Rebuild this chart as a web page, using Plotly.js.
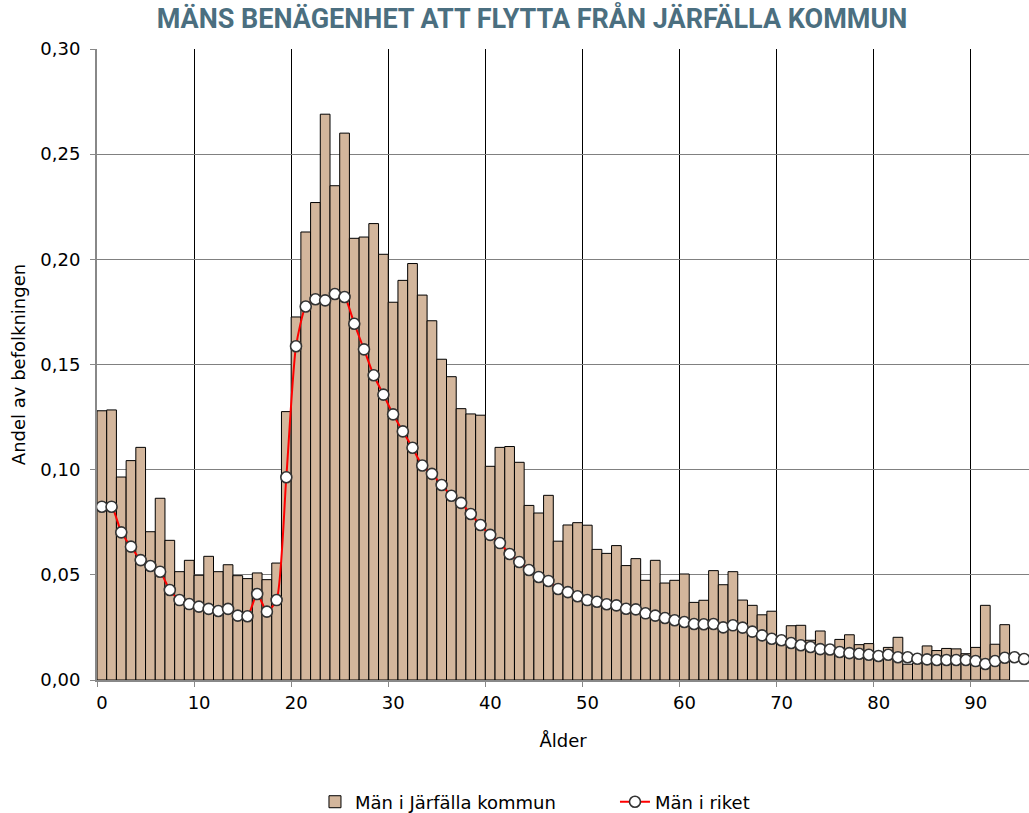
<!DOCTYPE html>
<html>
<head>
<meta charset="utf-8">
<script src="https://cdn.plot.ly/plotly-3.0.1.min.js"></script>
<style>html,body{margin:0;padding:0;background:#fff;}#chart{width:1029px;height:813px;}</style>
</head>
<body>
<div id="chart"></div>
<script>
// Ages 0..95
const ages = Array.from({length: 96}, (_, i) => i);

// Män i Järfälla kommun (bars), ages 0..95
const jarfalla = [
  0.128, 0.1284, 0.0965, 0.1043, 0.1106, 0.0705, 0.0864, 0.0664, 0.0515, 0.0569,
  0.0498, 0.0588, 0.0515, 0.0548, 0.0496, 0.0482, 0.0509, 0.0477, 0.0556, 0.1276,
  0.1726, 0.213, 0.227, 0.269, 0.235, 0.260, 0.210, 0.2106, 0.217, 0.2024,
  0.1796, 0.190, 0.198, 0.183, 0.1708, 0.1525, 0.1442, 0.129, 0.1265, 0.1259,
  0.1016, 0.1106, 0.111, 0.1035, 0.083, 0.0794, 0.0878, 0.066, 0.0737, 0.0748,
  0.0736, 0.0621, 0.0602, 0.0639, 0.0544, 0.0577, 0.0474, 0.0569, 0.0461, 0.0474,
  0.0504, 0.0369, 0.0379, 0.052, 0.0453, 0.0515, 0.038, 0.0355, 0.031, 0.0327,
  0.019, 0.0258, 0.026, 0.0189, 0.0233, 0.016, 0.0193, 0.0215, 0.0168, 0.0173,
  0.012, 0.0155, 0.0203, 0.0075, 0.008, 0.0162, 0.014, 0.015, 0.0148, 0.0125,
  0.0155, 0.0355, 0.017, 0.0263, null, null
];

// Män i riket (line), ages 0..95
const riket = [
  0.0824, 0.0824, 0.0702, 0.0634, 0.057, 0.0542, 0.0515, 0.0428, 0.038, 0.0361,
  0.0349, 0.0338, 0.0328, 0.0338, 0.0306, 0.0303, 0.0409, 0.0325, 0.038, 0.0964,
  0.1587, 0.1776, 0.181, 0.1805, 0.1835, 0.1821, 0.1694, 0.1572, 0.1449, 0.1357,
  0.1263, 0.1182, 0.1104, 0.102, 0.098, 0.0927, 0.0876, 0.0842, 0.0789, 0.0737,
  0.069, 0.0651, 0.0599, 0.0561, 0.0523, 0.049, 0.0471, 0.0433, 0.0418, 0.0398,
  0.038, 0.0372, 0.036, 0.0355, 0.0339, 0.0336, 0.0317, 0.0306, 0.0295, 0.0284,
  0.0276, 0.0266, 0.0265, 0.0266, 0.025, 0.026, 0.0249, 0.023, 0.0212, 0.0196,
  0.0189, 0.0176, 0.0165, 0.0157, 0.0147, 0.0145, 0.0133, 0.0128, 0.0125, 0.012,
  0.0114, 0.012, 0.0108, 0.0108, 0.0101, 0.0098, 0.0095, 0.0095, 0.0095, 0.0095,
  0.009, 0.0076, 0.009, 0.0106, 0.0108, 0.0100
];

// Tick labels (x labels sit at category centres; grid lines at category boundaries)
const xTickText = ["0", "10", "20", "30", "40", "50", "60", "70", "80", "90"];
const xTickVals = xTickText.map(t => Number(t) - 0.5);
const yTickVals = [0, 0.05, 0.10, 0.15, 0.20, 0.25, 0.30];

const FONT = "DejaVu Sans, Liberation Sans, Arial, sans-serif";

const traces = [
  {
    type: "bar",
    name: "Män i Järfälla kommun",
    x: ages,
    y: jarfalla,
    width: 1,
    marker: {color: "#d3b69c", line: {color: "#000000", width: 1}},
    hoverinfo: "x+y"
  },
  {
    type: "scatter",
    mode: "lines+markers",
    name: "Män i riket",
    x: ages,
    y: riket,
    line: {color: "#ff0000", width: 2, shape: "spline", smoothing: 0.6},
    marker: {symbol: "circle", size: 11, color: "#ffffff", line: {color: "#333333", width: 1.6}}
  }
];

const layout = {
  width: 1029,
  height: 813,
  margin: {l: 97, r: 0, t: 49, b: 133},
  paper_bgcolor: "#ffffff",
  plot_bgcolor: "#ffffff",
  separators: ", ",
  font: {family: FONT, size: 18, color: "#000000"},
  title: {
    text: "MÄNS BENÄGENHET ATT FLYTTA FRÅN JÄRFÄLLA KOMMUN",
    font: {family: "Roboto, Liberation Sans, sans-serif", size: 27, weight: "bold", color: "#4b6f80"},
    x: 0.517, xref: "container", xanchor: "center",
    y: 0.977, yref: "container", yanchor: "middle"
  },
  bargap: 0,
  showlegend: true,
  legend: {
    orientation: "h",
    xref: "container", x: 0.3061, xanchor: "left",
    yref: "container", y: 0.0135, yanchor: "middle",
    font: {family: FONT, size: 18, color: "#000000"},
    entrywidth: 255,
    entrywidthmode: "pixels",
    tracegroupgap: 0
  },
  xaxis: {
    range: [-0.5, 95.5],
    tickmode: "array",
    tickvals: xTickVals,
    ticktext: xTickText,
    ticklabelshift: 5,
    ticks: "outside",
    ticklen: 5,
    tickcolor: "#888888",
    tickfont: {family: FONT, size: 18, color: "#000000"},
    showgrid: true,
    gridcolor: "#000000",
    gridwidth: 1,
    showline: true,
    linecolor: "#888888",
    linewidth: 2,
    zeroline: false,
    fixedrange: true,
    title: {text: "Ålder", font: {family: FONT, size: 18, color: "#000000"}, standoff: 23}
  },
  yaxis: {
    range: [0, 0.30],
    tickmode: "array",
    tickvals: yTickVals,
    tickformat: ".2f",
    ticks: "outside",
    ticklen: 5,
    tickcolor: "#888888",
    ticklabelstandoff: 6,
    tickfont: {family: FONT, size: 18, color: "#000000"},
    showgrid: true,
    gridcolor: "#808080",
    gridwidth: 1,
    showline: true,
    linecolor: "#888888",
    linewidth: 2,
    zeroline: false,
    fixedrange: true,
    title: {text: "Andel av befolkningen", font: {family: FONT, size: 18, color: "#000000"}, standoff: 10}
  }
};

Plotly.newPlot("chart", traces, layout, {displayModeBar: false, staticPlot: true});
</script>
</body>
</html>
